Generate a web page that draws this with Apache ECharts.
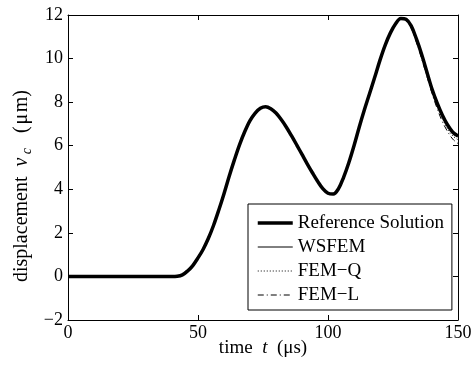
<!DOCTYPE html>
<html>
<head>
<meta charset="utf-8">
<script src="https://cdn.jsdelivr.net/npm/echarts@6/dist/echarts.min.js"></script>
<style>html,body{margin:0;padding:0;background:#fff}#c{width:475px;height:367px}</style>
</head>
<body>
<div id="c"></div>
<script>
// time samples (µs)
var times = [0,2,4,6,8,10,12,14,16,18,20,22,24,26,28,30,32,34,36,38,40,
  42,44,46,48,50,52,54,56,58,60,62,64,66,68,70,72,74,76,78,80,82,84,86,88,90,
  92,94,96,98,100,102,104,106,108,110,112,114,116,118,120,122,124,126,128,
  130,132,134,136,138,140,142,144,146,148,150];
// Reference solution displacement (µm)
var refValues = [0,0,0,0,0,0,0,0,0,0,0,0,0,0,0,0,0,0,0,0,0,
  0.01,0.07,0.25,0.5,0.85,1.25,1.75,2.35,3.05,3.8,4.6,5.35,6.05,6.65,7.15,7.5,7.72,7.79,7.7,7.5,7.2,6.85,6.45,6.03,5.6,
  5.17,4.76,4.37,4.03,3.82,3.78,4.02,4.55,5.22,6.0,6.85,7.65,8.4,9.15,9.93,10.62,11.18,11.6,11.84,
  11.8,11.5,10.9,10.2,9.4,8.6,7.95,7.4,6.95,6.62,6.45];
// WSFEM (indistinguishable from reference)
var wsfemValues = [0,0,0,0,0,0,0,0,0,0,0,0,0,0,0,0,0,0,0,0,0,
  0.01,0.07,0.25,0.5,0.85,1.25,1.75,2.35,3.05,3.8,4.6,5.35,6.05,6.65,7.15,7.5,7.72,7.79,7.7,7.5,7.2,6.85,6.45,6.03,5.6,
  5.17,4.76,4.37,4.03,3.82,3.78,4.02,4.55,5.22,6.0,6.85,7.65,8.4,9.15,9.93,10.62,11.18,11.6,11.84,
  11.79,11.48,10.88,10.17,9.37,8.57,7.92,7.37,6.92,6.58,6.4];
// FEM-Q
var femQValues = [0,0,0,0,0,0,0,0,0,0,0,0,0,0,0,0,0,0,0,0,0,
  0.01,0.07,0.25,0.5,0.85,1.25,1.75,2.35,3.05,3.8,4.6,5.35,6.05,6.65,7.15,7.5,7.72,7.79,7.7,7.5,7.2,6.85,6.45,6.03,5.6,
  5.17,4.76,4.37,4.03,3.82,3.78,4.02,4.55,5.22,6.0,6.85,7.65,8.4,9.15,9.93,10.62,11.18,11.6,11.84,
  11.78,11.45,10.82,10.1,9.3,8.52,7.83,7.25,6.78,6.45,6.28];
// FEM-L
var femLValues = [0,0,0,0,0,0,0,0,0,0,0,0,0,0,0,0,0,0,0,0,0,
  0.01,0.07,0.25,0.5,0.85,1.25,1.75,2.35,3.05,3.8,4.6,5.35,6.05,6.65,7.15,7.5,7.72,7.79,7.7,7.5,7.2,6.85,6.45,6.03,5.6,
  5.17,4.76,4.37,4.03,3.82,3.78,4.02,4.55,5.22,6.0,6.85,7.65,8.4,9.15,9.93,10.62,11.18,11.6,11.82,
  11.75,11.4,10.75,10.0,9.2,8.4,7.7,7.1,6.65,6.3,6.1];
var seriesNames = ['Reference Solution','WSFEM','FEM\u2212Q','FEM\u2212L'];
var xTicks = {min:0, max:150, step:50};
var yTicks = {min:-2, max:12, step:2};

function pairs(vals){ return times.map(function(t,i){ return [t, vals[i]]; }); }
var FONT = 'Liberation Serif';
var minusFmt = function(v){ return String(v).replace('-', '\u2212'); };

var styles = [
  {color:'#000', width:3.5},
  {color:'#000', width:1},
  {color:'#000', width:1, type:[1,2]},
  {color:'#000', width:1, type:[6,3,1,3]}
];

var chart = echarts.init(document.getElementById('c'), null, {renderer:'canvas'});
var axisCommon = {
  type:'value',
  splitLine:{show:false},
  axisLine:{show:true, onZero:false, lineStyle:{color:'#000', width:1}},
  axisTick:{show:true, inside:true, length:5, lineStyle:{color:'#000'}},
  axisLabel:{color:'#000', fontSize:18, fontFamily:FONT, formatter:minusFmt}
};
var lineSeries = function(i, vals, z){
  return {name:seriesNames[i], type:'line', data:pairs(vals), showSymbol:false, symbol:'none', smooth:0.35,
    itemStyle:{color:'#000', opacity:0}, lineStyle:styles[i], z:z};
};
chart.setOption({
  animation:false,
  backgroundColor:'#fff',
  textStyle:{fontFamily:FONT},
  grid:{left:68, right:17, top:15, bottom:47, containLabel:false},
  xAxis:[
    Object.assign({}, axisCommon, {min:xTicks.min, max:xTicks.max, interval:xTicks.step, position:'bottom',
      axisLabel:Object.assign({}, axisCommon.axisLabel, {margin:4})}),
    Object.assign({}, axisCommon, {min:xTicks.min, max:xTicks.max, interval:xTicks.step, position:'top',
      axisLabel:{show:false}})
  ],
  yAxis:[
    Object.assign({}, axisCommon, {min:yTicks.min, max:yTicks.max, interval:yTicks.step, position:'left',
      axisLabel:Object.assign({}, axisCommon.axisLabel, {margin:5})}),
    Object.assign({}, axisCommon, {min:yTicks.min, max:yTicks.max, interval:yTicks.step, position:'right',
      axisLabel:{show:false}})
  ],
  legend:{
    orient:'vertical', left:248, top:204,
    backgroundColor:'#fff', borderColor:'#000', borderWidth:1, borderRadius:0,
    padding:[9,8,5,8], itemWidth:35, itemHeight:14, itemGap:4, itemTextGap:5,
    itemStyle:{color:'rgba(0,0,0,0)', borderColor:'rgba(0,0,0,0)', borderWidth:0, opacity:0},
    textStyle:{color:'#000', fontSize:19, fontFamily:FONT, lineHeight:20},
    data:seriesNames.map(function(n, i){
      return {name:n, lineStyle:Object.assign({}, styles[i], {opacity:1})};
    })
  },
  series:[
    lineSeries(0, refValues, 2),
    lineSeries(1, wsfemValues, 3),
    lineSeries(2, femQValues, 3),
    lineSeries(3, femLValues, 3)
  ],
  graphic:[
    {type:'text', x:263, y:348, z:10,
     style:{align:'center', verticalAlign:'middle',
       rich:{n:{fontSize:19, fontFamily:FONT, fill:'#000'}, i:{fontSize:19, fontFamily:FONT, fontStyle:'italic', fill:'#000'}},
       text:'{n|time  }{i|t}{n|  (\u03bcs)}'}},
    {type:'text', x:22, y:186, rotation:Math.PI/2, z:10,
     style:{align:'center', verticalAlign:'middle',
       rich:{n:{fontSize:20, fontFamily:FONT, fill:'#000', lineHeight:24, verticalAlign:'middle'},
             i:{fontSize:20, fontFamily:FONT, fontStyle:'italic', fill:'#000', lineHeight:24, verticalAlign:'middle'},
             s:{fontSize:14, fontFamily:FONT, fontStyle:'italic', fill:'#000', lineHeight:14, verticalAlign:'bottom'}},
       text:'{n|displacement  }{i|v}{s| c}{n|   (\u200a\u03bc\u200am)}'}}
  ]
});
</script>
</body>
</html>
